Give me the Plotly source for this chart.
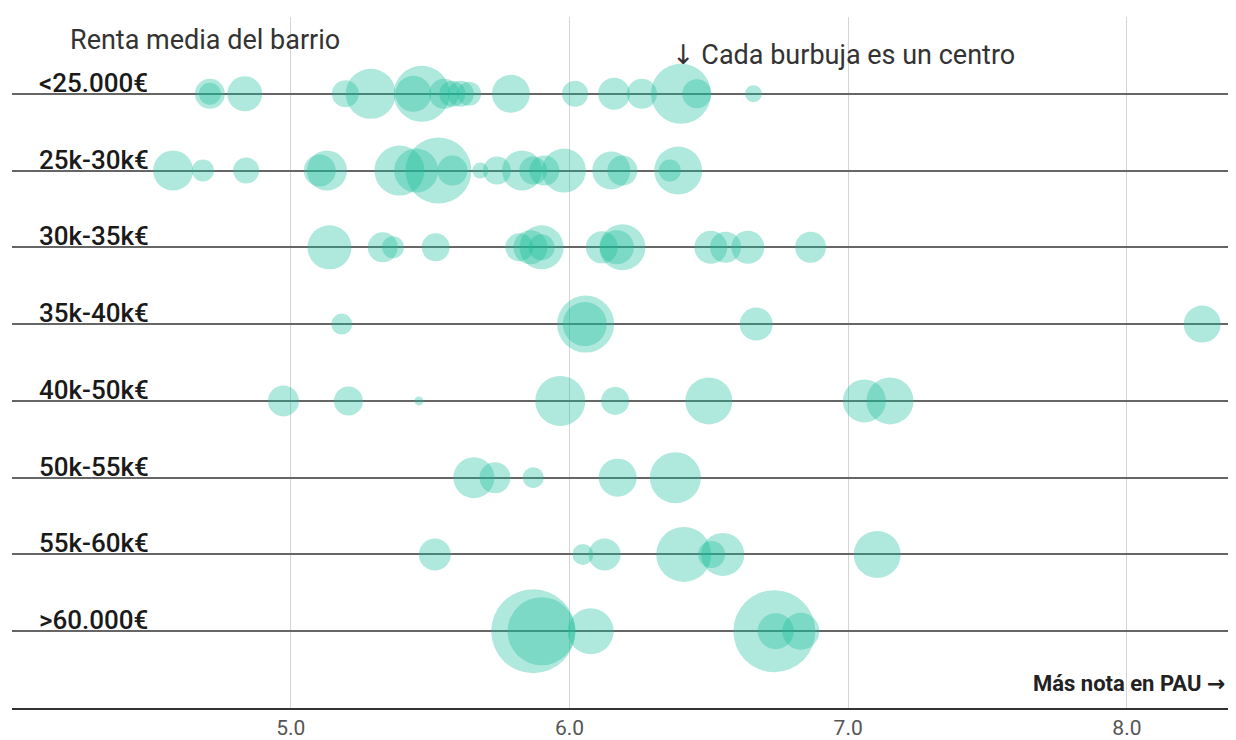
import plotly.graph_objects as go

# Income brackets (rows, top to bottom)
categorias = ["<25.000€", "25k-30k€", "30k-35k€", "35k-40k€",
              "40k-50k€", "50k-55k€", "55k-60k€", ">60.000€"]

# Average PAU grade of each school (x) and bubble size (school size), per row
nota_menos25 = [4.71, 4.71, 4.835, 5.196, 5.287, 5.44, 5.47, 5.55, 5.58, 5.61, 5.64, 5.79, 6.02, 6.16, 6.26, 6.40, 6.457, 6.66]
tam_menos25 = [30, 22, 35, 27, 50, 36, 56, 30, 26, 26, 24, 38, 26, 32, 30, 60, 29, 17]

nota_25_30 = [4.578, 4.685, 4.84, 5.104, 5.13, 5.39, 5.45, 5.53, 5.58, 5.68, 5.74, 5.83, 5.87, 5.91, 5.98, 6.15, 6.19, 6.36, 6.39]
tam_25_30 = [40, 22, 26, 32, 40, 50, 44, 66, 30, 16, 28, 40, 28, 30, 44, 38, 30, 22, 48]

nota_30_35 = [5.139, 5.33, 5.367, 5.52, 5.82, 5.86, 5.90, 5.90, 6.116, 6.17, 6.19, 6.507, 6.56, 6.64, 6.865]
tam_30_35 = [44, 30, 22, 28, 28, 34, 44, 26, 32, 34, 46, 33, 31, 33, 31]

nota_35_40 = [5.183, 6.055, 6.058, 6.67, 8.27]
tam_35_40 = [21, 44, 57, 33, 37]

nota_40_50 = [4.974, 5.207, 5.46, 5.967, 6.164, 6.50, 7.058, 7.15]
tam_40_50 = [31, 29, 9, 50, 28, 47, 43, 47]

nota_50_55 = [5.657, 5.733, 5.87, 6.173, 6.38]
tam_50_55 = [41, 31, 21, 38, 51]

nota_55_60 = [5.517, 6.048, 6.126, 6.41, 6.51, 6.55, 7.104]
tam_55_60 = [32, 21, 32, 55, 27, 43, 47]

nota_mas60 = [5.87, 5.90, 6.076, 6.735, 6.74, 6.83]
tam_mas60 = [84, 68, 46, 82, 36, 37]

notas = [nota_menos25, nota_25_30, nota_30_35, nota_35_40,
         nota_40_50, nota_50_55, nota_55_60, nota_mas60]
tamanos = [tam_menos25, tam_25_30, tam_30_35, tam_35_40,
           tam_40_50, tam_50_55, tam_55_60, tam_mas60]

x_ticks = [5, 6, 7, 8]
x_ticktext = ["5.0", "6.0", "7.0", "8.0"]

xs, ys, ss = [], [], []
for i, (n, t) in enumerate(zip(notas, tamanos)):
    xs += n
    ys += [i] * len(n)
    ss += t

fig = go.Figure()
fig.add_trace(go.Scatter(
    x=xs, y=ys, mode="markers",
    marker=dict(size=ss, sizemode="diameter", color="rgba(26,188,156,0.5)",
                line=dict(width=0)),
    hoverinfo="x", showlegend=False,
))

FONT = "Roboto, Arial, sans-serif"
ARROWFONT = "DejaVu Sans"
annotations = []
for i, c in enumerate(categorias):
    annotations.append(dict(
        x=0.0203, xref="paper", y=i, yref="y", text=c, showarrow=False,
        xanchor="left", yanchor="bottom", yshift=-6,
        font=dict(family=FONT, size=26, color="#1a1a1a", weight=500),
    ))
annotations.append(dict(
    x=0.0455, xref="paper", y=1.0, yref="paper", yshift=-23,
    text="Renta media del barrio", showarrow=False,
    xanchor="left", yanchor="middle",
    font=dict(family=FONT, size=27, color="#333333"),
))
annotations.append(dict(
    x=0.534, xref="paper", y=1.0, yref="paper", yshift=-38,
    text=f"<span style='font-family:{ARROWFONT};color:#333333'>↓</span> Cada burbuja es un centro",
    showarrow=False, xanchor="left", yanchor="middle",
    font=dict(family=FONT, size=27, color="#333333"),
))
annotations.append(dict(
    x=8.36, xref="x", y=0.0, yref="paper", yshift=25,
    text=f"Más nota en PAU <span style='font-family:{ARROWFONT};color:#222222'>→</span>",
    showarrow=False, xanchor="right", yanchor="middle",
    font=dict(family=FONT, size=22, color="#222222", weight="bold"),
))

fig.update_layout(
    width=1236, height=740,
    margin=dict(l=4, r=0, t=9, b=40),
    plot_bgcolor="white", paper_bgcolor="white",
    font=dict(family=FONT),
    xaxis=dict(range=[4.0, 8.42], tickvals=x_ticks, ticktext=x_ticktext,
               showgrid=True, gridcolor="#d4d4d4", gridwidth=1,
               showline=True, linecolor="#333333", linewidth=2,
               zeroline=False, ticks="",
               tickfont=dict(family=FONT, size=21, color="#555555")),
    yaxis=dict(range=[8, -1], tickvals=list(range(len(categorias))),
               showticklabels=False, showgrid=True, gridcolor="#666666",
               gridwidth=1.6, zeroline=False, showline=False),
    annotations=annotations,
)

fig.write_html("out.html")
